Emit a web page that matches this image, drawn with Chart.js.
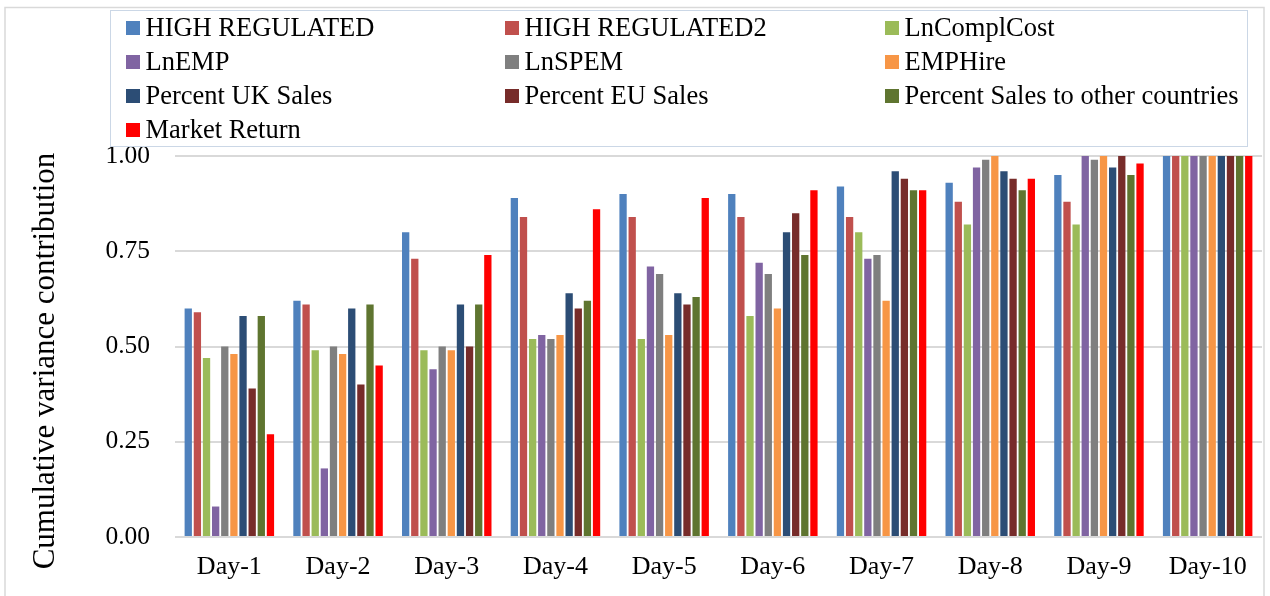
<!DOCTYPE html>
<html>
<head>
<meta charset="utf-8">
<script src="https://cdn.jsdelivr.net/npm/chart.js@4.4.0/dist/chart.umd.min.js"></script>
<style>
  html, body { margin: 0; padding: 0; background: #ffffff; }
  #wrap { width: 1270px; height: 596px; position: relative; }
</style>
</head>
<body>
<div id="wrap"><canvas id="c" width="1270" height="596"></canvas></div>
<script>
// ---- Data ----
const categories = ['Day-1','Day-2','Day-3','Day-4','Day-5','Day-6','Day-7','Day-8','Day-9','Day-10'];
const seriesNames = ['HIGH REGULATED','HIGH REGULATED2','LnComplCost','LnEMP','LnSPEM','EMPHire',
                     'Percent UK Sales','Percent EU Sales','Percent Sales to other countries','Market Return'];
const highRegulated   = [0.60, 0.62, 0.80, 0.89, 0.90, 0.90, 0.92, 0.93, 0.95, 1.00];
const highRegulated2  = [0.59, 0.61, 0.73, 0.84, 0.84, 0.84, 0.84, 0.88, 0.88, 1.00];
const lnComplCost     = [0.47, 0.49, 0.49, 0.52, 0.52, 0.58, 0.80, 0.82, 0.82, 1.00];
const lnEMP           = [0.08, 0.18, 0.44, 0.53, 0.71, 0.72, 0.73, 0.97, 1.00, 1.00];
const lnSPEM          = [0.50, 0.50, 0.50, 0.52, 0.69, 0.69, 0.74, 0.99, 0.99, 1.00];
const empHire         = [0.48, 0.48, 0.49, 0.53, 0.53, 0.60, 0.62, 1.00, 1.00, 1.00];
const percentUKSales  = [0.58, 0.60, 0.61, 0.64, 0.64, 0.80, 0.96, 0.96, 0.97, 1.00];
const percentEUSales  = [0.39, 0.40, 0.50, 0.60, 0.61, 0.85, 0.94, 0.94, 1.00, 1.00];
const percentOther    = [0.58, 0.61, 0.61, 0.62, 0.63, 0.74, 0.91, 0.91, 0.95, 1.00];
const marketReturn    = [0.27, 0.45, 0.74, 0.86, 0.89, 0.91, 0.91, 0.94, 0.98, 1.00];
const yTicks      = [0, 0.25, 0.5, 0.75, 1.0];
const yTickLabels = ['0.00', '0.25', '0.50', '0.75', '1.00'];
const yTitle = 'Cumulative variance contribution';

const seriesValues = [highRegulated, highRegulated2, lnComplCost, lnEMP, lnSPEM, empHire,
                      percentUKSales, percentEUSales, percentOther, marketReturn];
const seriesColors = ['#4f81bd','#c0504d','#9bbb59','#8064a2','#7f7f7f','#f79646',
                      '#2c4d75','#772c2a','#5f7530','#ff0000'];

const FONT = "'Liberation Serif', 'Times New Roman', serif";

// ---- Layout plugin: frame, legend, y title ----
const decor = {
  id: 'decor',
  beforeDraw(chart) {
    const ctx = chart.ctx;
    ctx.save();
    ctx.strokeStyle = '#d9d9d9';
    ctx.lineWidth = 1.5;
    ctx.strokeRect(5, 7.5, 1259, 600);
    ctx.restore();
  },
  afterDraw(chart) {
    const ctx = chart.ctx;
    ctx.save();
    // legend box
    ctx.fillStyle = '#ffffff';
    ctx.fillRect(110, 10, 1138, 137);
    ctx.strokeStyle = '#cbd7e6';
    ctx.lineWidth = 1;
    ctx.strokeRect(110.5, 10.5, 1137, 136);
    const colX = [126, 505, 885];
    const rowY0 = 28, rowH = 34;
    ctx.font = '26.5px ' + FONT;
    ctx.textBaseline = 'middle';
    ctx.textAlign = 'left';
    chart.data.datasets.forEach((ds, i) => {
      const col = i % 3, row = Math.floor(i / 3);
      const x = colX[col], y = rowY0 + row * rowH;
      ctx.fillStyle = ds.backgroundColor;
      ctx.fillRect(x, y - 7, 14, 14);
      ctx.fillStyle = '#000000';
      ctx.fillText(ds.label, x + 19.5, y + 1);
    });
    // y title
    ctx.translate(46, 361);
    ctx.rotate(-Math.PI / 2);
    ctx.font = '31px ' + FONT;
    ctx.textAlign = 'center';
    ctx.textBaseline = 'middle';
    ctx.fillStyle = '#000000';
    ctx.fillText(yTitle, 0, 0);
    ctx.restore();
  }
};

const datasets = seriesNames.map((name, i) => ({
  label: name,
  data: seriesValues[i],
  backgroundColor: seriesColors[i],
  borderWidth: 0,
  categoryPercentage: 0.84,
  barPercentage: 0.8
}));

new Chart(document.getElementById('c'), {
  type: 'bar',
  data: { labels: categories, datasets },
  options: {
    responsive: false,
    animation: false,
    layout: { padding: { top: 156, right: 8, left: 0, bottom: 0 } },
    plugins: { legend: { display: false }, tooltip: { enabled: false }, title: { display: false } },
    scales: {
      x: {
        grid: { display: false, drawTicks: false },
        border: { display: false },
        ticks: { color: '#000', font: { family: FONT, size: 26 }, padding: 15, maxRotation: 0, autoSkip: false },
        afterFit(scale) { scale.height = 59; }
      },
      y: {
        min: 0, max: 1,
        afterBuildTicks(scale) { scale.ticks = yTicks.map(v => ({ value: v })); },
        grid: { color: '#d9d9d9', lineWidth: 2, drawTicks: false },
        border: { display: false },
        ticks: {
          color: '#000', font: { family: FONT, size: 25.5 }, padding: 25,
          callback(value) { const k = yTicks.indexOf(value); return k >= 0 ? yTickLabels[k] : ''; }
        },
        afterFit(scale) { scale.width = 175; }
      }
    }
  },
  plugins: [decor]
});
</script>
</body>
</html>
